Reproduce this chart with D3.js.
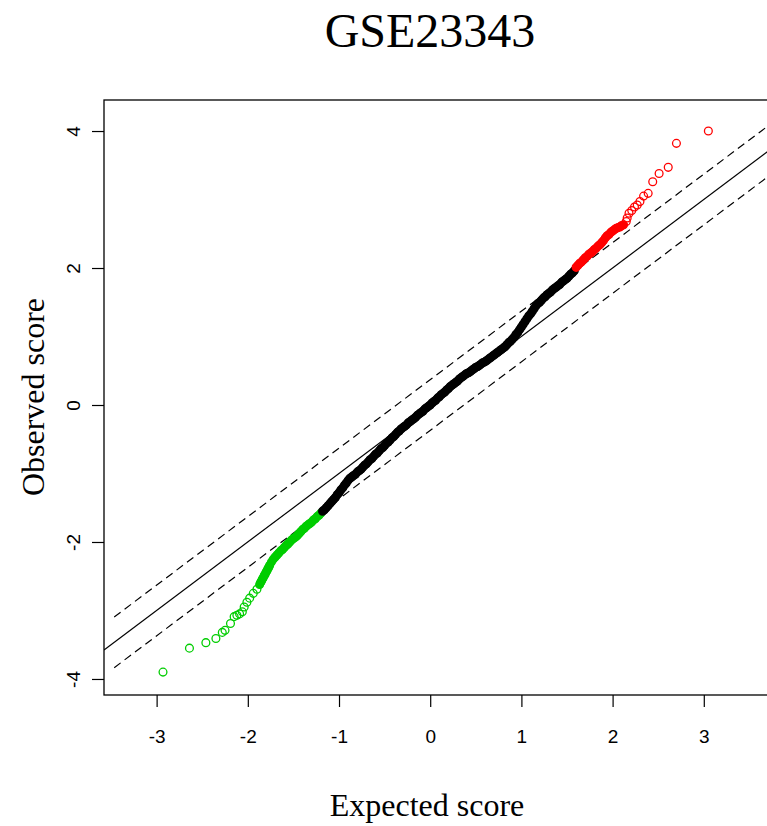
<!DOCTYPE html>
<html><head><meta charset="utf-8">
<script src="https://cdn.jsdelivr.net/npm/d3@7"></script>
<style>body{margin:0;background:#fff}</style>
</head><body>
<svg id="chart" width="767" height="826"></svg>
<script>
const titleText = "GSE23343";
const xLabelText = "Expected score";
const yLabelText = "Observed score";
const xTickValues = [-3, -2, -1, 0, 1, 2, 3];
const yTickValues = [-4, -2, 0, 2, 4];
const deltaValue = 0.37;
const dashedRange = [-3.465, 3.9];
const xDomain = [-3.577, 3.726];
const yDomain = [-4.234, 4.453];

// [expected score, observed score]
const greenScores = [
[-2.93,-3.90],[-2.64,-3.55],[-2.46,-3.47],[-2.35,-3.41],[-2.28,-3.32],[-2.25,-3.29],[-2.19,-3.19],[-2.15,-3.09],
[-2.12,-3.07],[-2.09,-3.05],[-2.06,-3.02],[-2.04,-2.95],[-2.01,-2.88],[-1.98,-2.82],[-1.94,-2.75],[-1.90,-2.69],
[-1.87,-2.62],[-1.86,-2.59],[-1.85,-2.57],[-1.84,-2.54],[-1.83,-2.52],[-1.82,-2.49],[-1.81,-2.47],[-1.80,-2.44],
[-1.79,-2.42],[-1.78,-2.39],[-1.77,-2.37],[-1.76,-2.34],[-1.74,-2.29],[-1.72,-2.25],[-1.70,-2.22],[-1.68,-2.19],
[-1.66,-2.16],[-1.64,-2.13],[-1.62,-2.11],[-1.60,-2.08],[-1.58,-2.05],[-1.56,-2.03],[-1.54,-2.00],[-1.52,-1.97],
[-1.50,-1.95],[-1.48,-1.93],[-1.46,-1.91],[-1.44,-1.88],[-1.42,-1.85],[-1.40,-1.82],[-1.38,-1.80],[-1.36,-1.77],
[-1.34,-1.75],[-1.32,-1.73],[-1.30,-1.71],[-1.28,-1.68],[-1.26,-1.66],[-1.24,-1.63],[-1.22,-1.61],[-1.20,-1.58]
];

const blackScores = [
[-1.18,-1.55],[-1.16,-1.53],[-1.14,-1.50],[-1.12,-1.47],[-1.10,-1.44],[-1.08,-1.41],[-1.06,-1.38],[-1.04,-1.35],
[-1.02,-1.31],[-1.00,-1.28],[-0.98,-1.24],[-0.96,-1.21],[-0.94,-1.17],[-0.92,-1.14],[-0.90,-1.10],[-0.88,-1.07],
[-0.86,-1.05],[-0.84,-1.03],[-0.82,-1.01],[-0.80,-0.98],[-0.78,-0.96],[-0.76,-0.94],[-0.74,-0.91],[-0.72,-0.88],
[-0.70,-0.86],[-0.68,-0.83],[-0.66,-0.80],[-0.64,-0.78],[-0.62,-0.75],[-0.60,-0.72],[-0.58,-0.70],[-0.56,-0.67],
[-0.54,-0.64],[-0.52,-0.62],[-0.50,-0.59],[-0.48,-0.56],[-0.46,-0.54],[-0.44,-0.51],[-0.42,-0.48],[-0.40,-0.46],
[-0.38,-0.43],[-0.36,-0.40],[-0.34,-0.38],[-0.32,-0.35],[-0.30,-0.33],[-0.28,-0.31],[-0.26,-0.29],[-0.24,-0.26],
[-0.22,-0.24],[-0.20,-0.22],[-0.18,-0.20],[-0.16,-0.18],[-0.14,-0.15],[-0.12,-0.13],[-0.10,-0.11],[-0.08,-0.09],
[-0.06,-0.06],[-0.04,-0.04],[-0.02,-0.02],[0.00,0.00],[0.02,0.03],[0.04,0.05],[0.06,0.07],[0.08,0.10],
[0.10,0.12],[0.12,0.15],[0.14,0.17],[0.16,0.19],[0.18,0.22],[0.20,0.24],[0.22,0.27],[0.24,0.29],
[0.26,0.31],[0.28,0.33],[0.30,0.35],[0.32,0.38],[0.34,0.40],[0.36,0.42],[0.38,0.44],[0.40,0.46],
[0.42,0.47],[0.44,0.49],[0.46,0.51],[0.48,0.53],[0.50,0.55],[0.52,0.56],[0.54,0.58],[0.56,0.60],
[0.58,0.62],[0.60,0.63],[0.62,0.65],[0.64,0.67],[0.66,0.69],[0.68,0.71],[0.70,0.73],[0.72,0.75],
[0.74,0.77],[0.76,0.79],[0.78,0.81],[0.80,0.83],[0.82,0.85],[0.84,0.88],[0.86,0.91],[0.88,0.93],
[0.90,0.96],[0.92,0.99],[0.94,1.03],[0.96,1.06],[0.98,1.10],[1.00,1.14],[1.02,1.18],[1.04,1.22],
[1.06,1.26],[1.08,1.30],[1.10,1.33],[1.12,1.37],[1.14,1.41],[1.16,1.45],[1.18,1.48],[1.20,1.50],
[1.22,1.53],[1.24,1.56],[1.26,1.58],[1.28,1.61],[1.30,1.63],[1.32,1.65],[1.34,1.68],[1.36,1.70],
[1.38,1.72],[1.40,1.74],[1.42,1.76],[1.44,1.79],[1.46,1.81],[1.48,1.83],[1.50,1.85],[1.52,1.88],
[1.54,1.91],[1.56,1.93],[1.58,1.96]
];

const redScores = [
[1.60,2.01],[1.62,2.04],[1.64,2.07],[1.66,2.09],[1.68,2.12],[1.70,2.15],[1.72,2.17],[1.74,2.20],
[1.76,2.22],[1.78,2.24],[1.80,2.27],[1.82,2.29],[1.84,2.32],[1.86,2.34],[1.88,2.37],[1.90,2.40],
[1.92,2.44],[1.94,2.47],[1.96,2.49],[1.98,2.52],[2.00,2.54],[2.02,2.56],[2.04,2.58],[2.06,2.59],
[2.08,2.60],[2.10,2.62],[2.12,2.63],[2.15,2.68],[2.16,2.73],[2.18,2.80],[2.21,2.84],[2.24,2.89],
[2.27,2.92],[2.30,2.97],[2.34,3.05],[2.39,3.09],[2.44,3.26],[2.51,3.38],[2.61,3.47],[2.70,3.82],
[3.05,4.00]
];

const svg = d3.select("#chart");
const plot = {left: 104, top: 100, right: 770, bottom: 695};

const x = d3.scaleLinear().domain(xDomain).range([plot.left, plot.right]);
const y = d3.scaleLinear().domain(yDomain).range([plot.bottom, plot.top]);

svg.append("defs").append("clipPath").attr("id", "clip")
  .append("rect").attr("x", plot.left).attr("y", plot.top)
  .attr("width", plot.right - plot.left).attr("height", plot.bottom - plot.top);

// title
svg.append("text").attr("x", 430).attr("y", 47)
  .attr("text-anchor", "middle")
  .style("font-family", "'Liberation Serif', 'Times New Roman', serif")
  .style("font-size", "48px").text(titleText);

// reference lines
const lines = svg.append("g").attr("clip-path", "url(#clip)");
lines.append("line")
  .attr("x1", x(xDomain[0])).attr("y1", y(xDomain[0]))
  .attr("x2", x(xDomain[1])).attr("y2", y(xDomain[1]))
  .attr("stroke", "#000").attr("stroke-width", 1.2);
[deltaValue, -deltaValue].forEach(d => {
  lines.append("line")
    .attr("x1", x(dashedRange[0])).attr("y1", y(dashedRange[0] + d))
    .attr("x2", x(dashedRange[1])).attr("y2", y(dashedRange[1] + d))
    .attr("stroke", "#000").attr("stroke-width", 1.2)
    .attr("stroke-dasharray", "8,5");
});

// points: open circles; long runs of heavily overlapping points
// (the overplotted cloud) read as a solid band, so those are filled
const pts = svg.append("g").attr("clip-path", "url(#clip)");
function drawPoints(data, color) {
  const px = data.map(d => [x(d[0]), y(d[1])]);
  const close = px.map((p, i) => i > 0 && Math.hypot(p[0] - px[i-1][0], p[1] - px[i-1][1]) < 3.7);
  const dense = new Array(px.length).fill(false);
  let start = 0;
  for (let i = 1; i <= px.length; i++) {
    if (i === px.length || !close[i]) {
      if (i - start >= 6) for (let k = start; k < i; k++) dense[k] = true;
      start = i;
    }
  }
  pts.append("g").selectAll("circle").data(data).join("circle")
    .attr("cx", d => x(d[0])).attr("cy", d => y(d[1]))
    .attr("r", 3.9)
    .attr("fill", (d, i) => dense[i] ? color : "none")
    .attr("stroke", color).attr("stroke-width", 1.3);
}
drawPoints(greenScores, "#00CD00");
drawPoints(blackScores, "#000000");
drawPoints(redScores, "#FF0000");

const fmt = d => String(d);

// axes
const xAxis = svg.append("g").attr("transform", `translate(0,${plot.bottom})`)
  .call(d3.axisBottom(x).tickValues(xTickValues).tickSize(12).tickSizeOuter(0).tickFormat(fmt));
xAxis.select(".domain").remove();
xAxis.selectAll("line").attr("stroke-width", 1.2);
xAxis.selectAll("text").attr("y", 48).attr("dy", null)
  .style("font-family", "'Liberation Sans', Arial, sans-serif").style("font-size", "19px");

const yAxis = svg.append("g").attr("transform", `translate(${plot.left},0)`)
  .call(d3.axisLeft(y).tickValues(yTickValues).tickSize(12).tickSizeOuter(0).tickFormat(fmt));
yAxis.select(".domain").remove();
yAxis.selectAll("line").attr("stroke-width", 1.2);
yAxis.selectAll("text").attr("x", null).attr("dy", null)
  .attr("text-anchor", "middle")
  .attr("transform", "translate(-24,0) rotate(-90)")
  .style("font-family", "'Liberation Sans', Arial, sans-serif").style("font-size", "19px");

// frame
svg.append("rect").attr("x", plot.left).attr("y", plot.top)
  .attr("width", plot.right - plot.left).attr("height", plot.bottom - plot.top)
  .attr("fill", "none").attr("stroke", "#000").attr("stroke-width", 1.3);

// axis titles
svg.append("text").attr("x", 427).attr("y", 816).attr("text-anchor", "middle")
  .style("font-family", "'Liberation Serif', 'Times New Roman', serif")
  .style("font-size", "32px").text(xLabelText);
svg.append("text").attr("transform", "translate(44,397) rotate(-90)").attr("text-anchor", "middle")
  .style("font-family", "'Liberation Serif', 'Times New Roman', serif")
  .style("font-size", "32px").text(yLabelText);
</script>
</body></html>
